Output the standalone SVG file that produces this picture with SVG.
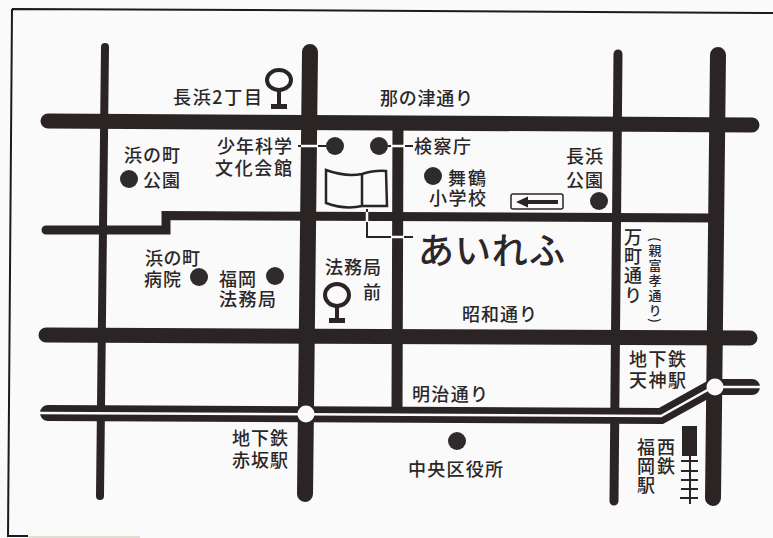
<svg xmlns="http://www.w3.org/2000/svg" width="773" height="538" viewBox="0 0 773 538">
<style>
.bg{fill:#fafafa}
.frame{fill:none;stroke:#1c1a1a;stroke-width:2}
.road{fill:none;stroke:#2b2425;stroke-linecap:round;stroke-linejoin:miter}
.cut{fill:none;stroke:#fafafa;stroke-width:2.5}
.lead{fill:none;stroke:#2b2425;stroke-width:2}
.dot{fill:#2f2a2b}
.stop{fill:none;stroke:#2b2425;stroke-width:4}
.solid{fill:#2b2425}
text{font-family:"Noto Sans CJK JP","Noto Sans",sans-serif;font-size:18px;font-weight:500;fill:#2b2728}
.v{writing-mode:vertical-rl}
.small{font-size:13px}
.brand{font-size:36px;font-weight:500}
</style>
<rect class="bg" width="773" height="538"/>
<path class="frame" d="M12,9 L250,10 L773,13 M12,9 L8,536 L28,536"/>
<path d="M28,537 H140" fill="none" stroke="#d9d3c4" stroke-width="1.5"/>
<g id="connectors">
<path class="road" stroke-width="8" d="M105,47 L100,496"/>
<path class="road" stroke-width="16" d="M310,52 L305,494"/>
<path class="road" stroke-width="11" stroke-linecap="butt" d="M398,122 L397,410"/>
<path class="road" stroke-width="9" d="M618,54 L614,501"/>
<path class="road" stroke-width="16" d="M718,55 L713,498"/>
<path class="road" stroke-width="15" d="M48,121 L752,125"/>
<path class="road" stroke-width="9" d="M46,230 H166 V215.500 L712,218"/>
<path class="road" stroke-width="15" d="M46,335 L750,338"/>
<path class="road" stroke-width="16" d="M48,413 L661,416 L713,387 H752"/>
<path class="cut" stroke-width="2.500" d="M38,413 L661,416 L713,387 H762"/>
<path class="lead" d="M298,146 H326 M388,146 H413 M367,209 V237 H413"/>
<path class="cut" stroke-width="2" d="M301,146 H318 M391,146 H405 M367,212 V222 M391,237 H404"/>
</g>
<g id="station-akasaka"><circle cx="306" cy="414" r="8.500" fill="#fafafa"/><text><tspan x="232" y="445" textLength="56">地下鉄</tspan><tspan x="232" y="467" textLength="56">赤坂駅</tspan></text></g>
<g id="station-tenjin"><circle cx="715" cy="387" r="8.500" fill="#fafafa"/><text><tspan x="629" y="366" textLength="57">地下鉄</tspan><tspan x="629" y="387" textLength="57">天神駅</tspan></text></g>
<g id="building">
<path d="M326,170 Q345,177 362,174 Q375,170 386,171 L387,206 L362,206 Q345,210 326,203 Z M362,174 V206" fill="none" stroke="#2b2425" stroke-width="2.500"/>
<text class="brand" x="418" y="264" textLength="147">あいれふ</text>
</g>
<g id="stop-nagahama"><ellipse class="stop" cx="279" cy="80" rx="12" ry="10"/><path class="solid" d="M277,90 h4 v14 h6 v5 h-16 v-5 h6 z"/><text x="173" y="104" textLength="89">長浜2丁目</text></g>
<g id="stop-homukyoku"><ellipse class="stop" cx="337" cy="295" rx="12" ry="11"/><path class="solid" d="M335,306 h4 v12 h6 v5 h-16 v-5 h6 z"/><text><tspan x="325" y="274" textLength="56">法務局</tspan><tspan x="363" y="299">前</tspan></text></g>
<g id="label-nanotsu"><text x="380" y="105" textLength="93">那の津通り</text></g>
<g id="label-showa"><text x="462" y="321" textLength="75">昭和通り</text></g>
<g id="label-meiji"><text x="412" y="401" textLength="76">明治通り</text></g>
<g id="label-yorozu"><text class="v" x="633" y="228" textLength="76">万町通り</text></g>
<g id="label-oyafuko"><text class="v small" x="655" y="237" textLength="86">(親富孝通り)</text></g>
<g id="poi-shonen"><circle class="dot" cx="335" cy="146" r="9"/><text><tspan x="217" y="153" textLength="75">少年科学</tspan><tspan x="215" y="175" textLength="77">文化会館</tspan></text></g>
<g id="poi-kensatsu"><circle class="dot" cx="379" cy="146" r="9"/><text x="414" y="153" textLength="57">検察庁</text></g>
<g id="poi-hamanomachi-park"><circle class="dot" cx="129" cy="179" r="9"/><text><tspan x="124" y="162" textLength="56">浜の町</tspan><tspan x="143" y="187" textLength="37">公園</tspan></text></g>
<g id="poi-maizuru"><circle class="dot" cx="433" cy="176" r="9"/><text><tspan x="448" y="185" textLength="38">舞鶴</tspan><tspan x="429" y="205" textLength="57">小学校</tspan></text></g>
<g id="poi-nagahama-park"><circle class="dot" cx="599" cy="201" r="9"/><text><tspan x="566" y="163" textLength="37">長浜</tspan><tspan x="566" y="187" textLength="37">公園</tspan></text></g>
<g id="poi-hospital"><circle class="dot" cx="199" cy="277" r="9"/><text><tspan x="145" y="265" textLength="55">浜の町</tspan><tspan x="144" y="286" textLength="37">病院</tspan></text></g>
<g id="poi-houmu"><circle class="dot" cx="275" cy="276" r="9"/><text><tspan x="219" y="286" textLength="37">福岡</tspan><tspan x="219" y="306" textLength="57">法務局</tspan></text></g>
<g id="poi-chuoku"><circle class="dot" cx="457" cy="441" r="9"/><text x="408" y="476" textLength="95">中央区役所</text></g>
<g id="one-way">
<rect x="511" y="194" width="52" height="15" rx="2" fill="none" stroke="#2b2425" stroke-width="1.500"/>
<path class="solid" d="M516,202 L528,196.500 V200 H558 V204 H528 V207.500 Z"/>
</g>
<g id="nishitetsu">
<rect class="solid" x="682" y="426" width="15" height="30"/>
<path class="lead" d="M690,456 V504 M681,461 H698 M681,471 H698 M681,480 H698 M681,489 H698 M680,498 H698"/>
<text class="v"><tspan x="666" y="438" textLength="37">西鉄</tspan><tspan x="646" y="438" textLength="56">福岡駅</tspan></text>
</g>
</svg>
